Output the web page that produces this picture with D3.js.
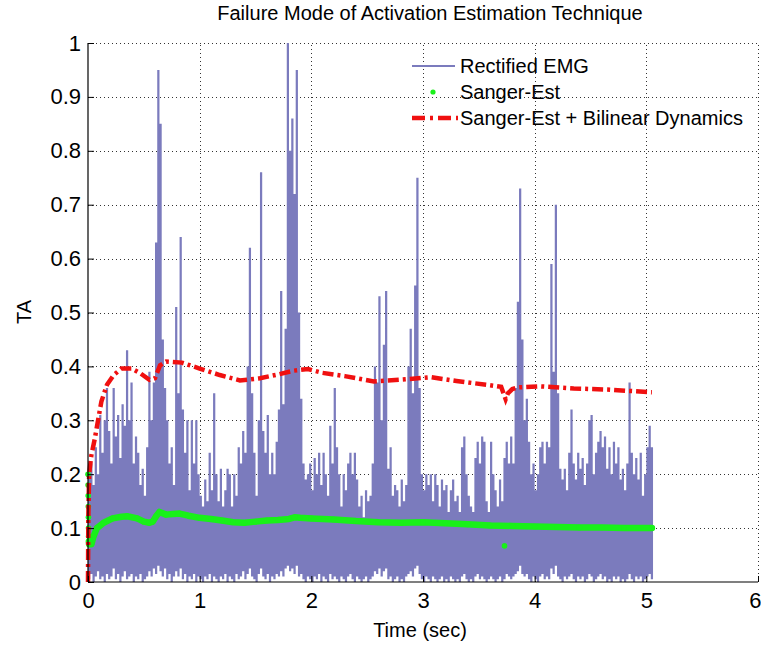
<!DOCTYPE html>
<html>
<head>
<meta charset="utf-8">
<script src="https://cdn.jsdelivr.net/npm/d3@7"></script>
<style>
  body { margin: 0; background: #fff; }
  text { font-family: "Liberation Sans", Arial, sans-serif; fill: #000; }
</style>
</head>
<body>
<svg id="chart" width="761" height="645"></svg>
<script>
// axis ticks
const xTicks = [0, 1, 2, 3, 4, 5, 6];
const xTickLabels = ["0", "1", "2", "3", "4", "5", "6"];
const yTicks = [0, 0.1, 0.2, 0.3, 0.4, 0.5, 0.6, 0.7, 0.8, 0.9, 1];
const yTickLabels = ["0", "0.1", "0.2", "0.3", "0.4", "0.5", "0.6", "0.7", "0.8", "0.9", "1"];

// rectified EMG, max and min of the trace in each emgStep slot
const emgStep = 0.02;
const emgHigh = [
  0.20,0.22,0.18,0.25,0.20,0.31,0.24,0.30,0.36,0.28,
  0.22,0.36,0.27,0.31,0.23,0.33,0.29,0.43,0.30,0.37,
  0.22,0.27,0.24,0.18,0.21,0.16,0.25,0.39,0.30,0.37,
  0.63,0.95,0.85,0.45,0.36,0.30,0.22,0.25,0.18,0.51,
  0.35,0.64,0.32,0.24,0.30,0.17,0.30,0.22,0.30,0.20,
  0.16,0.14,0.19,0.15,0.24,0.17,0.35,0.20,0.15,0.21,
  0.14,0.17,0.21,0.20,0.14,0.20,0.16,0.25,0.22,0.28,
  0.24,0.40,0.62,0.35,0.24,0.16,0.30,0.76,0.28,0.24,
  0.31,0.20,0.24,0.20,0.26,0.32,0.54,0.33,0.47,1.00,
  0.80,0.86,0.72,0.95,0.50,0.34,0.22,0.19,0.20,0.22,
  0.17,0.23,0.20,0.24,0.18,0.24,0.20,0.16,0.29,0.22,
  0.36,0.25,0.20,0.14,0.20,0.17,0.22,0.24,0.20,0.24,
  0.19,0.14,0.16,0.12,0.17,0.15,0.16,0.22,0.40,0.37,
  0.53,0.30,0.44,0.54,0.21,0.25,0.16,0.18,0.17,0.14,
  0.19,0.15,0.18,0.40,0.47,0.35,0.55,0.75,0.36,0.20,
  0.17,0.20,0.18,0.20,0.15,0.20,0.18,0.14,0.19,0.17,
  0.18,0.13,0.17,0.19,0.15,0.16,0.13,0.25,0.27,0.20,
  0.16,0.14,0.13,0.23,0.26,0.22,0.27,0.26,0.15,0.13,
  0.26,0.20,0.17,0.14,0.19,0.15,0.23,0.26,0.22,0.27,
  0.22,0.36,0.52,0.73,0.45,0.30,0.34,0.26,0.20,0.22,
  0.17,0.20,0.25,0.26,0.22,0.26,0.25,0.59,0.39,0.70,
  0.35,0.21,0.19,0.21,0.17,0.24,0.32,0.22,0.19,0.24,
  0.21,0.23,0.18,0.22,0.30,0.31,0.20,0.24,0.26,0.28,
  0.25,0.27,0.21,0.25,0.20,0.26,0.22,0.25,0.19,0.21,
  0.17,0.22,0.37,0.24,0.20,0.23,0.19,0.24,0.16,0.20,
  0.25,0.29,0.25
];
const emgLow = [
  0.005,0.015,0,0.01,0.02,0.005,0.01,0,0.015,0.005,
  0.01,0.025,0.005,0.015,0,0.01,0.02,0.005,0.01,0.015,
  0,0.01,0.005,0.015,0,0.005,0.01,0.02,0.01,0.025,
  0.015,0.03,0.02,0.01,0.025,0.005,0.015,0,0.01,0.02,
  0.01,0.025,0.005,0.015,0,0.01,0.005,0.015,0,0.01,
  0.005,0,0.01,0.005,0.015,0,0.01,0.005,0,0.01,
  0.005,0.015,0,0.01,0.005,0,0.015,0.005,0.01,0.02,
  0.005,0.015,0.025,0.01,0.005,0,0.015,0.025,0.01,0.005,
  0.015,0,0.01,0.005,0.015,0.01,0.02,0.01,0.025,0.03,
  0.02,0.025,0.015,0.03,0.01,0.015,0.005,0,0.01,0.005,
  0,0.01,0.005,0.015,0,0.01,0.005,0,0.015,0.005,
  0.01,0.005,0,0.01,0.005,0,0.01,0.015,0.005,0,
  0.01,0.005,0,0.005,0.01,0,0.005,0.01,0.02,0.015,
  0.025,0.01,0.02,0.025,0.005,0.01,0,0.005,0.01,0,
  0.005,0,0.01,0.015,0.02,0.01,0.025,0.03,0.015,0.005,
  0,0.01,0.005,0,0.01,0.005,0,0.005,0.01,0,
  0.005,0,0.01,0.005,0,0.005,0,0.01,0.015,0.005,
  0,0.005,0,0.01,0.015,0.005,0.01,0.005,0,0.005,
  0.01,0.005,0,0.005,0.01,0,0.005,0.015,0.01,0.005,
  0.01,0.015,0.02,0.03,0.015,0.01,0.015,0.005,0,0.01,
  0.005,0,0.01,0.015,0.005,0.01,0.005,0.025,0.015,0.03,
  0.01,0.005,0,0.01,0.005,0.01,0.015,0.005,0,0.01,
  0.005,0.01,0,0.005,0.015,0.01,0,0.005,0.01,0.015,
  0.005,0.01,0,0.005,0,0.01,0.005,0.01,0,0.005,
  0,0.005,0.015,0.005,0,0.01,0.005,0.01,0,0.005,
  0.01,0.015,0.005
];

// Sanger-Est
const sangerTime = [0,0.001,0.002,0.003,0.004,0.005,0.006,0.008,
  0.01,0.03,0.05,0.08,0.14,0.22,0.30,0.35,0.44,0.50,
  0.55,0.58,0.61,0.64,0.70,0.76,0.82,0.90,1.00,1.10,
  1.20,1.30,1.40,1.50,1.60,1.70,1.80,1.85,1.90,2.00,
  2.20,2.40,2.60,2.80,3.00,3.20,3.40,3.60,3.80,4.00,
  4.20,4.40,4.60,4.80,5.05];
const sangerVal = [0.20,0.18,0.16,0.14,0.12,0.10,0.085,0.075,
  0.07,0.07,0.085,0.10,0.11,0.118,0.121,0.122,0.118,0.112,
  0.11,0.112,0.122,0.13,0.125,0.126,0.127,0.123,0.119,0.117,
  0.114,0.111,0.11,0.112,0.114,0.115,0.117,0.12,0.119,0.118,
  0.116,0.113,0.111,0.11,0.111,0.109,0.107,0.105,0.104,0.103,
  0.102,0.101,0.101,0.10,0.10];
const sangerOutlierTime = [3.73];
const sangerOutlierVal = [0.067];

// Sanger-Est + Bilinear Dynamics
const bilinTime = [0,0.003,0.01,0.03,0.06,0.09,0.12,0.17,0.23,0.30,
  0.39,0.47,0.55,0.60,0.645,0.70,0.84,1.00,1.18,1.36,
  1.54,1.70,1.84,1.97,2.10,2.30,2.56,2.84,3.07,3.30,
  3.45,3.60,3.70,3.74,3.76,3.80,3.85,4.05,4.35,4.65,
  5.05];
const bilinVal = [0,0.12,0.20,0.235,0.265,0.30,0.335,0.366,0.384,0.396,
  0.396,0.387,0.375,0.378,0.402,0.409,0.407,0.396,0.384,0.374,
  0.378,0.385,0.392,0.395,0.388,0.382,0.372,0.376,0.38,0.373,
  0.369,0.365,0.362,0.339,0.35,0.358,0.361,0.363,0.359,0.357,
  0.352];

const legendLabels = ["Rectified EMG", "Sanger-Est", "Sanger-Est + Bilinear Dynamics"];

const emgColor = "#7b7bbd";
const sangerColor = "#19f019";
const bilinColor = "#f01010";

const svg = d3.select("#chart");
const x = d3.scaleLinear().domain([0, 6]).range([88, 758]);
const y = d3.scaleLinear().domain([0, 1]).range([582, 43]);

// dotted grid
const grid = svg.append("g").attr("stroke", "#333").attr("stroke-width", 1)
  .attr("stroke-dasharray", "1,3");
grid.selectAll(".gx").data(xTicks.slice(1)).enter().append("line")
  .attr("x1", d => Math.round(x(d)) + 0.5).attr("x2", d => Math.round(x(d)) + 0.5)
  .attr("y1", y(0)).attr("y2", y(1));
grid.selectAll(".gy").data(yTicks.slice(1)).enter().append("line")
  .attr("x1", x(0)).attr("x2", x(6))
  .attr("y1", d => Math.round(y(d)) + 0.5).attr("y2", d => Math.round(y(d)) + 0.5);

// EMG: the trace is so dense that each slot shows as a solid column min..max
const emgSlots = emgHigh.map((h, i) => ({ t: i * emgStep, hi: h, lo: emgLow[i] }));
emgSlots.push({ t: emgHigh.length * emgStep, hi: emgHigh[emgHigh.length - 1], lo: emgLow[emgLow.length - 1] });
const emgArea = d3.area()
  .curve(d3.curveStepAfter)
  .x(d => x(d.t))
  .y0(d => y(d.lo))
  .y1(d => y(d.hi));
svg.append("path").datum(emgSlots)
  .attr("d", emgArea)
  .attr("fill", emgColor);

const line = d3.line().x(d => x(d[0])).y(d => y(d[1]));

// Sanger-Est dots (dense enough to read as a thick line)
const sangerPts = sangerTime.map((t, i) => [t, sangerVal[i]]);
svg.append("path").datum(sangerPts.filter(d => d[0] >= 0.008))
  .attr("d", line)
  .attr("fill", "none")
  .attr("stroke", sangerColor)
  .attr("stroke-width", 6.5)
  .attr("stroke-linecap", "round")
  .attr("stroke-linejoin", "round");
svg.append("g").selectAll("circle")
  .data(sangerPts.concat(sangerOutlierTime.map((t, i) => [t, sangerOutlierVal[i]])))
  .enter().append("circle")
  .attr("cx", d => x(d[0])).attr("cy", d => y(d[1]))
  .attr("r", 2.8)
  .attr("fill", sangerColor);

// bilinear dynamics, dash-dot
const bilinPts = bilinTime.map((t, i) => [t, bilinVal[i]]);
svg.append("path").datum(bilinPts)
  .attr("d", line)
  .attr("fill", "none")
  .attr("stroke", bilinColor)
  .attr("stroke-width", 4.5)
  .attr("stroke-dasharray", "11,4,3,4");

// axes, ticks point inward
const xAxis = d3.axisBottom(x).tickValues(xTicks)
  .tickFormat((d, i) => xTickLabels[i]).tickSize(-6).tickPadding(10);
const yAxis = d3.axisLeft(y).tickValues(yTicks)
  .tickFormat((d, i) => yTickLabels[i]).tickSize(-6).tickPadding(7);

const gx = svg.append("g").attr("transform", "translate(0," + y(0) + ")").call(xAxis);
const gy = svg.append("g").attr("transform", "translate(" + x(0) + ",0)").call(yAxis);
[gx, gy].forEach(g => {
  g.select(".domain").attr("stroke", "#000").attr("stroke-width", 1.2);
  g.selectAll(".tick line").attr("stroke", "#000");
  g.selectAll(".tick text").attr("font-size", 22).attr("fill", "#000")
    .style("font-family", '"Liberation Sans", Arial, sans-serif');
});
gx.select(".domain").attr("d", "M" + x(0) + ",0H" + x(6));
gy.select(".domain").attr("d", "M0," + y(0) + "V" + y(1));
// last x label sits at the window edge, keep it inside
gx.selectAll(".tick").filter(d => d === 6).select("text")
  .attr("text-anchor", "end").attr("x", 3);

// title and labels
svg.append("text").attr("x", 430).attr("y", 20)
  .attr("text-anchor", "middle").attr("font-size", 20)
  .text("Failure Mode of Activation Estimation Technique");
svg.append("text").attr("x", 420).attr("y", 637)
  .attr("text-anchor", "middle").attr("font-size", 20)
  .text("Time (sec)");
svg.append("text").attr("transform", "translate(31,312) rotate(-90)")
  .attr("text-anchor", "middle").attr("font-size", 20)
  .text("TA");

// legend, no box
const legend = svg.append("g");
const rowY = [66, 92, 118];
legend.append("line").attr("x1", 412).attr("x2", 455).attr("y1", rowY[0]).attr("y2", rowY[0])
  .attr("stroke", emgColor).attr("stroke-width", 1.8);
legend.append("circle").attr("cx", 433).attr("cy", rowY[1]).attr("r", 2.6)
  .attr("fill", sangerColor);
legend.append("line").attr("x1", 412).attr("x2", 458).attr("y1", rowY[2]).attr("y2", rowY[2])
  .attr("stroke", bilinColor).attr("stroke-width", 4.5).attr("stroke-dasharray", "13,5,3,5");
legend.selectAll(".lt").data(legendLabels).enter().append("text")
  .attr("x", 460).attr("y", (d, i) => rowY[i] + 7)
  .attr("font-size", 20)
  .text(d => d);
</script>
</body>
</html>
